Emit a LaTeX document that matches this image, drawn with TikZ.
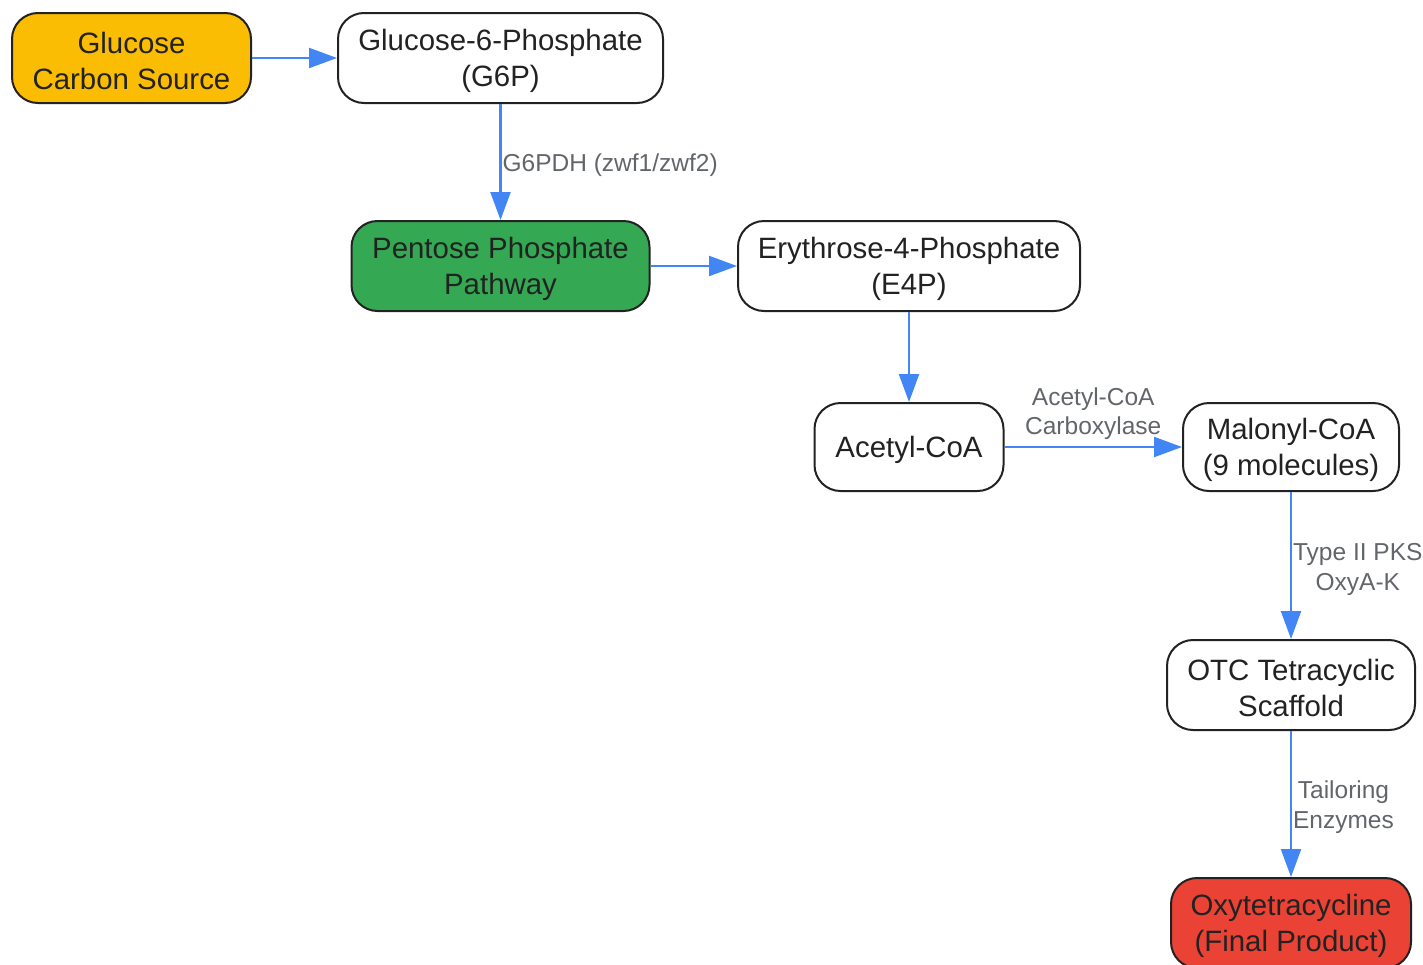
\documentclass[tikz,border=0pt]{standalone}
\usepackage{fontspec}
\setmainfont{Liberation Sans}
\usetikzlibrary{arrows.meta}
\definecolor{bord}{HTML}{222222}
\definecolor{txt}{HTML}{222222}
\definecolor{yellowc}{HTML}{FBBC04}
\definecolor{greenc}{HTML}{34A853}
\definecolor{redc}{HTML}{EA4335}
\definecolor{bluec}{HTML}{4285F4}
\definecolor{lblc}{HTML}{62666A}
\begin{document}
\begin{tikzpicture}[x=1pt,y=-1pt,
  box/.style={draw=bord, line width=2pt, rounded corners=26pt, inner sep=0pt, fill=white},
  boxtext/.style={align=center, font=\fontsize{29.4}{36}\selectfont, text=txt, inner sep=0pt, yshift=-2.5pt},
  edge/.style={draw=bluec, line width=2.2pt, -{Triangle[length=28pt,width=20pt]}},
  lbl/.style={font=\fontsize{24.5}{29.5}\selectfont, text=lblc, align=center, inner sep=1pt}]
\useasboundingbox (0,0) rectangle (1423,964);
\node[box, fill=yellowc, minimum width=239pt, minimum height=90pt] (glc) at (131.5,58) {};
\node[box, minimum width=325pt, minimum height=90pt] (g6p) at (500.5,58) {};
\node[box, fill=greenc, minimum width=298pt, minimum height=90pt] (ppp) at (500.5,266) {};
\node[box, minimum width=342pt, minimum height=90pt] (e4p) at (909,266) {};
\node[box, minimum width=189pt, minimum height=88pt] (acc) at (909,447) {};
\node[box, minimum width=216pt, minimum height=88pt] (mal) at (1291,447) {};
\node[box, minimum width=248pt, minimum height=90pt] (otc) at (1291,685) {};
\node[box, fill=redc, minimum width=240pt, minimum height=90pt] (oxy) at (1291,923) {};
\node[boxtext] (glc-t) at (glc.center) {Glucose\\Carbon Source};
\node[boxtext] (g6p-t) at (g6p.center) {Glucose-6-Phosphate\\(G6P)};
\node[boxtext] (ppp-t) at (ppp.center) {Pentose Phosphate\\Pathway};
\node[boxtext] (e4p-t) at (e4p.center) {Erythrose-4-Phosphate\\(E4P)};
\node[boxtext] (acc-t) at (acc.center) {Acetyl-CoA};
\node[boxtext] (mal-t) at (mal.center) {Malonyl-CoA\\(9 molecules)};
\node[boxtext] (otc-t) at (otc.center) {OTC Tetracyclic\\Scaffold};
\node[boxtext] (oxy-t) at (oxy.center) {Oxytetracycline\\(Final Product)};
\draw[edge] (glc) -- (g6p);
\draw[edge] (g6p) -- node[lbl, anchor=west, yshift=-3pt] {G6PDH (zwf1/zwf2)} (ppp);
\draw[edge] (ppp) -- (e4p);
\draw[edge] (e4p) -- (acc);
\draw[edge] (acc) -- node[lbl, anchor=south, inner sep=4pt, yshift=2pt] {Acetyl-CoA\\Carboxylase} (mal);
\draw[edge] (mal) -- node[lbl, anchor=west, yshift=-4pt] {Type II PKS\\OxyA-K} (otc);
\draw[edge] (otc) -- node[lbl, anchor=west, yshift=-3pt] {Tailoring\\Enzymes} (oxy);
\end{tikzpicture}
\end{document}
